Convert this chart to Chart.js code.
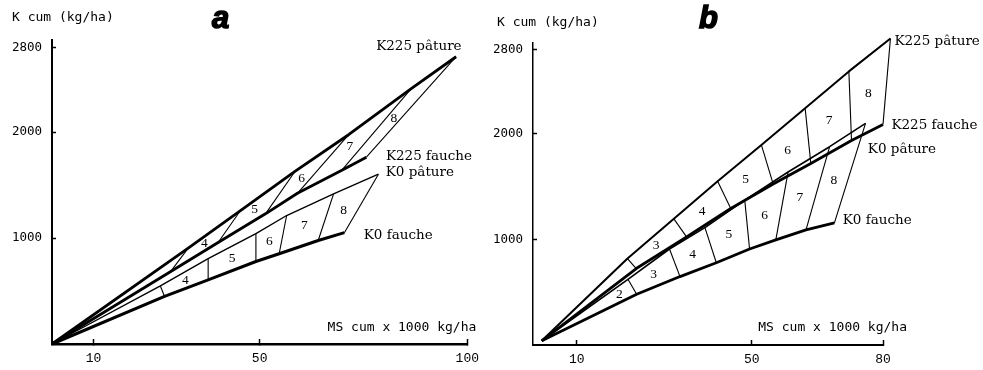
<!DOCTYPE html>
<html>
<head>
<meta charset="utf-8">
<script src="https://cdn.jsdelivr.net/npm/chart.js@4.4.1/dist/chart.umd.min.js"></script>
<style>
  html, body { margin: 0; padding: 0; background: #fff; }
  #wrap { position: relative; width: 983px; height: 370px; }
  .panel { position: absolute; top: 0; height: 370px; }
  #panelA { left: 0; width: 491px; }
  #panelB { left: 491px; width: 492px; }
</style>
</head>
<body>
<div id="wrap">
  <div class="panel" id="panelA"><canvas id="chartA" width="491" height="370"></canvas></div>
  <div class="panel" id="panelB"><canvas id="chartB" width="492" height="370"></canvas></div>
</div>
<script>
// ---- panel a : cumulative values at cuts 3..8, lines start at the origin ----
const cutsA = [3, 4, 5, 6, 7, 8];
const originA = [0, 0];
const aK225PatX = [32.8, 45.3, 58.5, 71.5, 86.5, 97.3];
const aK225PatY = [905, 1256, 1629, 1978, 2410, 2712];
const aK225FauX = [28.6, 40.0, 51.4, 59.1, 69.8, 75.7];
const aK225FauY = [685, 958, 1229, 1423, 1641, 1764];
const aK0PatX = [26.1, 37.6, 49.1, 56.5, 67.8, 78.6];
const aK0PatY = [548, 805, 1043, 1213, 1418, 1603];
const aK0FauX = [27.1, 37.6, 49.1, 54.7, 64.1, 70.4];
const aK0FauY = [449, 606, 779, 852, 977, 1051];
const cellsA225 = [4, 5, 6, 7, 8];
const cellsA0 = [4, 5, 6, 7, 8];
const xTicksA = [10, 50, 100];

// ---- panel b : cuts 2..8 ----
const cutsB = [2, 3, 4, 5, 6, 7, 8];
const originB = [2, 40];
const bK225PatX = [21.6, 32.2, 42.2, 52.2, 62.2, 72.2, 81.7];
const bK225PatY = [819, 1195, 1550, 1895, 2243, 2591, 2903];
const bK225FauX = [23.6, 35.1, 45.2, 54.9, 63.5, 72.8, 80.0];
const bK225FauY = [724, 1024, 1293, 1524, 1719, 1937, 2089];
const bK0PatX = [21.7, 31.2, 39.3, 48.4, 58.3, 67.8, 76.0];
const bK0PatY = [622, 909, 1111, 1372, 1638, 1878, 2099];
const bK0FauX = [23.7, 33.6, 41.9, 49.5, 55.5, 62.4, 68.9];
const bK0FauY = [480, 648, 779, 909, 995, 1090, 1157];
const cellsB225 = [3, 4, 5, 6, 7, 8];
const cellsB0 = [2, 3, 4, 5, 6, 7, 8];
const xTicksB = [10, 50, 80];

const yTicks = [1000, 2000, 2800];
const seriesNames = ['K225 pâture', 'K225 fauche', 'K0 pâture', 'K0 fauche'];

function pts(origin, xs, ys) {
  return [{x: origin[0], y: origin[1]}].concat(xs.map((v, i) => ({x: v, y: ys[i]})));
}

// cell label sits between cut k-1 and cut k; first cell closes on the origin
function cellLabels(cuts, cells, origin, px, py, fx, fy) {
  let out = [];
  cells.forEach(k => {
    const i = cuts.indexOf(k);
    const j = cuts.indexOf(k - 1);
    let x, y;
    if (j >= 0) {
      x = (px[j] + fx[j] + px[i] + fx[i]) / 4;
      y = (py[j] + fy[j] + py[i] + fy[i]) / 4;
    } else {
      x = (origin[0] + 3 * px[i] + 3 * fx[i]) / 7;
      y = (origin[1] + 3 * py[i] + 3 * fy[i]) / 7;
    }
    out.push({text: String(k), x: x, y: y});
  });
  return out;
}

const annotPlugin = {
  id: 'annot',
  afterDraw(chart, args, o) {
    const {ctx, chartArea} = chart;
    const xs = chart.scales.x, ys = chart.scales.y;
    ctx.save();
    ctx.fillStyle = '#000';
    ctx.strokeStyle = '#000';
    ctx.textBaseline = 'middle';
    // axis titles
    ctx.font = '13px "DejaVu Sans Mono"';
    ctx.textAlign = 'left';
    ctx.fillText('K cum (kg/ha)', chartArea.left + o.yTitle[0], chartArea.top + o.yTitle[1]);
    ctx.textAlign = 'right';
    ctx.fillText('MS cum x 1000 kg/ha', chartArea.right + o.xTitle[0], chartArea.bottom + o.xTitle[1]);
    // panel letter, heavy
    ctx.font = 'italic bold 31px "Liberation Sans"';
    ctx.textAlign = 'left';
    ctx.textBaseline = 'alphabetic';
    ctx.lineWidth = 1.5;
    ctx.fillText(o.letter, o.letterPos[0], o.letterPos[1]);
    ctx.strokeText(o.letter, o.letterPos[0], o.letterPos[1]);
    // series names at the end of each line
    ctx.font = '13.5px "DejaVu Serif"';
    ctx.textBaseline = 'middle';
    o.ends.forEach((e, i) => {
      const lab = o.nameOffsets[i];
      ctx.textAlign = lab[2];
      ctx.fillText(seriesNames[i], xs.getPixelForValue(e[0]) + lab[0], ys.getPixelForValue(e[1]) + lab[1]);
    });
    // cut numbers inside the cells
    ctx.font = '13.5px "Liberation Serif"';
    ctx.textAlign = 'center';
    o.cells.forEach(c => {
      ctx.fillText(c.text, xs.getPixelForValue(c.x), ys.getPixelForValue(c.y));
    });
    ctx.restore();
  }
};

function buildChart(canvasId, p) {
  const series = [
    [p.pat225x, p.pat225y], [p.fau225x, p.fau225y], [p.pat0x, p.pat0y], [p.fau0x, p.fau0y]
  ];
  let datasets = [];
  series.forEach((s, i) => {
    datasets.push({
      data: pts(p.origin, s[0], s[1]),
      borderColor: '#000',
      borderWidth: p.widths[i],
      pointRadius: 0,
      showLine: true,
      tension: 0,
      clip: false,
      borderJoinStyle: 'round'
    });
  });
  // cross lines joining pâture and fauche at each cut
  [[0, 1], [2, 3]].forEach(pair => {
    const a = series[pair[0]], b = series[pair[1]];
    p.cuts.forEach((c, j) => {
      datasets.push({
        data: [{x: a[0][j], y: a[1][j]}, {x: b[0][j], y: b[1][j]}],
        borderColor: '#000',
        borderWidth: 1.1,
        pointRadius: 0,
        showLine: true,
        clip: false
      });
    });
  });

  const cells = cellLabels(p.cuts, p.cells225, p.origin, p.pat225x, p.pat225y, p.fau225x, p.fau225y)
    .concat(cellLabels(p.cuts, p.cells0, p.origin, p.pat0x, p.pat0y, p.fau0x, p.fau0y));
  const last = p.cuts.length - 1;
  const ends = series.map(s => [s[0][last], s[1][last]]);

  return new Chart(document.getElementById(canvasId), {
    type: 'scatter',
    data: {datasets: datasets},
    plugins: [annotPlugin],
    options: {
      responsive: false,
      animation: false,
      events: [],
      layout: {padding: p.padding},
      plugins: {
        legend: {display: false},
        tooltip: {enabled: false},
        annot: {
          yTitle: p.yTitle, xTitle: p.xTitle,
          letter: p.letter, letterPos: p.letterPos,
          ends: ends, nameOffsets: p.nameOffsets,
          cells: cells
        }
      },
      scales: {
        x: {
          type: 'linear',
          min: 0,
          max: p.xMax,
          afterBuildTicks: s => { s.ticks = p.xTicks.map(v => ({value: v})); },
          afterFit: s => { s.height = p.xAxisHeight; },
          grid: {drawOnChartArea: false, color: '#000', tickLength: -5, tickWidth: 1.5},
          border: {color: '#000', width: p.xBorder},
          ticks: {
            color: '#000', font: {family: 'Liberation Mono', size: 13}, padding: 12,
            maxRotation: 0, autoSkip: false, callback: v => String(v)
          }
        },
        y: {
          type: 'linear',
          min: 0,
          max: p.yMax,
          afterBuildTicks: s => { s.ticks = yTicks.map(v => ({value: v})); },
          afterFit: s => { s.width = p.yAxisWidth; },
          grid: {drawOnChartArea: false, color: '#000', tickLength: -4, tickWidth: 1.5},
          border: {color: '#000', width: p.yBorder},
          ticks: {
            color: '#000', font: {family: 'DejaVu Sans Mono', size: 12.5}, padding: 14,
            autoSkip: false, callback: v => String(v)
          }
        }
      }
    }
  });
}

buildChart('chartA', {
  cuts: cutsA, origin: originA,
  pat225x: aK225PatX, pat225y: aK225PatY, fau225x: aK225FauX, fau225y: aK225FauY,
  pat0x: aK0PatX, pat0y: aK0PatY, fau0x: aK0FauX, fau0y: aK0FauY,
  cells225: cellsA225, cells0: cellsA0,
  widths: [2.8, 2.8, 1.4, 3],
  xTicks: xTicksA, xMax: 100, yMax: 2870,
  padding: {left: 0, top: 40, right: 13, bottom: 0},
  yAxisWidth: 52, xAxisHeight: 26, xBorder: 2.5, yBorder: 2,
  yTitle: [-40, -22], xTitle: [9, -16],
  letter: 'a', letterPos: [212, 28],
  nameOffsets: [[5.5, -10, 'right'], [19.5, -0.7, 'left'], [7.3, -1.7, 'left'], [19.3, 2.8, 'left']]
});

buildChart('chartB', {
  cuts: cutsB, origin: originB,
  pat225x: bK225PatX, pat225y: bK225PatY, fau225x: bK225FauX, fau225y: bK225FauY,
  pat0x: bK0PatX, pat0y: bK0PatY, fau0x: bK0FauX, fau0y: bK0FauY,
  cells225: cellsB225, cells0: cellsB0,
  widths: [2, 2.8, 1.6, 2.8],
  xTicks: xTicksB, xMax: 80, yMax: 2860,
  padding: {left: 0, top: 43, right: 100, bottom: 0},
  yAxisWidth: 42, xAxisHeight: 25, xBorder: 2, yBorder: 1.5,
  yTitle: [-36, -20], xTitle: [24, -17],
  letter: 'b', letterPos: [208, 28],
  nameOffsets: [[4, 3, 'left'], [8.4, 1.5, 'left'], [2.3, 26.5, 'left'], [8.3, -2, 'left']]
});
</script>
</body>
</html>
